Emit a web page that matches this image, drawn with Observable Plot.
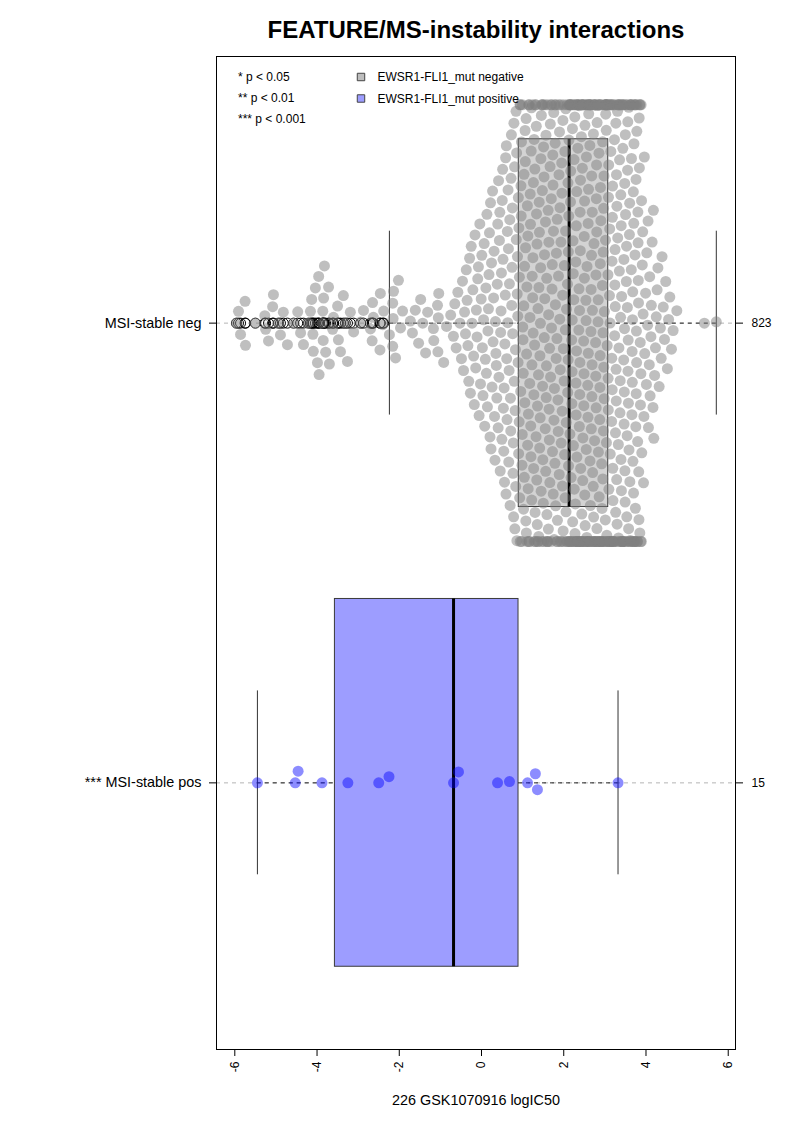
<!DOCTYPE html>
<html>
<head>
<meta charset="utf-8">
<script src="https://cdn.jsdelivr.net/npm/d3@7"></script>
<script src="https://cdn.jsdelivr.net/npm/@observablehq/plot@0.6"></script>
<style>
  html, body { margin: 0; padding: 0; background: #fff; }
  #chart svg { display: block; }
</style>
</head>
<body>
<div id="chart"></div>
<script>
// ---------------- data ----------------
const title = "FEATURE/MS-instability interactions";
const xLabel = "226 GSK1070916 logIC50";
const xTicks = [-6, -4, -2, 0, 2, 4, 6];
const groupNames = ["MSI-stable neg", "MSI-stable pos"];
const groupSig = ["", "***"];
const groupPos = [2, 1];
const sigLegend = ["* p < 0.05", "** p < 0.01", "*** p < 0.001"];
const featLegend = ["EWSR1-FLI1_mut negative", "EWSR1-FLI1_mut positive"];

// MSI-stable neg: sparse lower part, read point by point
const negLow = [
  -5.96, -5.91, -5.86, -5.75, -5.74, -5.50, -5.27, -5.25, -5.18,
  -5.08, -5.06, -4.94, -4.89, -4.82, -4.72, -4.57, -4.47, -4.40,
  -4.33, -4.21, -4.16, -4.13, -4.10, -4.09, -4.04, -3.99, -3.96, -3.95, -3.87,
  -3.86, -3.85, -3.84, -3.82, -3.79, -3.72, -3.70, -3.62, -3.60, -3.50, -3.48,
  -3.43, -3.36, -3.31, -3.26, -3.19, -3.11, -2.94, -2.87, -2.70, -2.66, -2.65, -2.63,
  -2.47, -2.46, -2.40, -2.38,
  -2.24, -2.16, -2.16, -2.15, -2.14, -2.09, -2.02, -1.97, -1.92, -1.73, -1.68, -1.61,
  -1.53, -1.48, -1.43, -1.36, -1.31, -1.17, -1.16, -1.07, -1.06, -1.05, -1.04, -0.92
];
// MSI-stable neg: dense part, counts per 0.1-wide bin (bin start values)
const negBinStart = [
  -0.9, -0.8, -0.7, -0.6, -0.5, -0.4, -0.3, -0.2, -0.1, 0.0, 0.1, 0.2, 0.3, 0.4, 0.5, 0.6, 0.7, 0.8,
  0.9, 1.0, 1.1, 1.2, 1.3, 1.4, 1.5, 1.6, 1.7, 1.8, 1.9, 2.0,
  2.1, 2.2, 2.3, 2.4, 2.5, 2.6, 2.7, 2.8, 2.9, 3.0,
  3.1, 3.2, 3.3, 3.4, 3.5, 3.6, 3.7, 3.8
];
const negBinCount = [
  1, 1, 3, 2, 4, 5, 5, 6, 6, 7, 8, 8, 9, 10, 11, 12, 13, 14,
  16, 16, 16, 17, 17, 17, 17, 17, 17, 16, 17, 17,
  21, 21, 22, 22, 22, 22, 21, 22, 21, 22,
  21, 20, 20, 20, 20, 20, 20, 19
];
// MSI-stable neg: upper tail, read point by point
const negHigh = [
  3.91, 3.92, 3.93, 3.94, 3.95, 3.96, 3.97, 3.99,
  4.01, 4.02, 4.04, 4.05, 4.06, 4.08, 4.09, 4.10,
  4.12, 4.13, 4.15, 4.17, 4.18, 4.19,
  4.21, 4.23, 4.25, 4.27, 4.29,
  4.32, 4.35, 4.37, 4.39,
  4.42, 4.45, 4.48,
  4.52, 4.55, 4.58,
  4.62, 4.66, 4.75,
  5.42, 5.71
];
// MSI-stable pos (15 points)
const posValues = [
  -5.45, -4.53, -4.46, -3.88, -3.25, -2.50, -2.25, -0.68, -0.56, 0.39, 0.68, 1.12, 1.31, 1.36, 3.32
];

// ---------------- layout ----------------
const W = 793, H = 1122;
const mL = 216, mR = 58, mT = 56, mB = 73;
const xDomain = [-6.445, 6.177];
const yDomain = [0.42, 2.58];
const FONT = "'Liberation Sans', Arial, Helvetica, sans-serif";

const negValues = negLow.concat(
  negBinStart.flatMap((s, i) => d3.range(negBinCount[i]).map(k => +(s + (k + 0.5) / negBinCount[i] * 0.1).toFixed(4))),
  negHigh
);

const xs = Plot.scale({x: {domain: xDomain, range: [mL, W - mR]}});
const ys = Plot.scale({y: {domain: yDomain, range: [H - mB, mT]}});
const pxPerUnit = Math.abs(ys.apply(1) - ys.apply(2));

// beeswarm "swarm" placement (ascending priority) with gutter corral
function swarm(values, pos, d, limitUnits) {
  const pts = values.map(v => ({v, px: xs.apply(v), off: 0})).sort((a, b) => a.px - b.px);
  for (let i = 1; i < pts.length; i++) {
    const p = pts[i];
    const nb = [];
    for (let k = i - 1; k >= 0 && p.px - pts[k].px < d; k--) nb.push(pts[k]);
    if (!nb.length) continue;
    nb.reverse();
    const cands = [0];
    for (const q of nb) cands.push(q.off + Math.sqrt(d * d - (p.px - q.px) ** 2));
    for (const q of nb) cands.push(q.off - Math.sqrt(d * d - (p.px - q.px) ** 2));
    let best = 0, bestAbs = Infinity;
    for (const c of cands) {
      if (Math.abs(c) >= bestAbs) continue;
      let ok = true;
      for (const q of nb) {
        const dx = p.px - q.px, dy = c - q.off;
        if (dx * dx + dy * dy < 0.999 * d * d) { ok = false; break; }
      }
      if (ok) { best = c; bestAbs = Math.abs(c); }
    }
    p.off = best;
  }
  const lim = limitUnits * pxPerUnit;
  return pts.map(p => ({v: p.v, y: pos + Math.max(-lim, Math.min(lim, p.off)) / pxPerUnit}));
}

// R boxplot.stats (Tukey hinges)
function boxStats(arr, pos, name) {
  const x = arr.slice().sort((a, b) => a - b), n = x.length;
  const n4 = Math.floor((n + 3) / 2) / 2;
  const f = [1, n4, (n + 1) / 2, n + 1 - n4, n].map(di => 0.5 * (x[Math.floor(di) - 1] + x[Math.ceil(di) - 1]));
  const iqr = f[3] - f[1];
  const loF = f[1] - 1.5 * iqr, hiF = f[3] + 1.5 * iqr;
  const inside = x.filter(v => v >= loF && v <= hiF);
  return {
    name, pos, n,
    q1: f[1], med: f[2], q3: f[3],
    lo: d3.min(inside), hi: d3.max(inside),
    out: x.filter(v => v < loF || v > hiF)
  };
}

const groupValues = [negValues, posValues];
const stats = groupValues.map((vals, i) => boxStats(vals, groupPos[i], groupNames[i]));
const outliers = stats.flatMap(s => s.out.map(v => ({v, pos: s.pos})));
const boxFill = ["#d3d3d3", "#9d9dff"];
const dotFill = ["rgb(128,128,128)", "rgb(0,0,255)"];
const dotOpacity = [0.5, 0.45];
const legendFill = ["#bdbdbd", "#9d9dff"];

const swarms = groupValues.map((vals, i) =>
  swarm(vals, groupPos[i], 12, 0.475).map(p => ({...p, g: i})));

const labelByPos = new Map(stats.map((s, i) => [s.pos, (groupSig[i] ? groupSig[i] + " " : "") + s.name]));
const countByPos = new Map(stats.map(s => [s.pos, String(s.n)]));

const chart = Plot.plot({
  width: W, height: H,
  marginLeft: mL, marginRight: mR, marginTop: mT, marginBottom: mB,
  style: {fontFamily: FONT, fontSize: "12px", background: "white", color: "black", overflow: "visible"},
  x: {domain: xDomain},
  y: {domain: yDomain},
  marks: [
    // guide lines through group centers
    Plot.ruleY(groupPos, {stroke: "#b4b4b4", strokeDasharray: "4,4", strokeWidth: 1}),
    // boxes
    Plot.rect(stats, {x1: "q1", x2: "q3", y1: d => d.pos - 0.4, y2: d => d.pos + 0.4,
      fill: (d, i) => boxFill[i], stroke: "#3a3a3a", strokeWidth: 1}),
    // whiskers
    Plot.ruleY(stats, {y: "pos", x1: "lo", x2: "q1", stroke: "#222", strokeDasharray: "4,4"}),
    Plot.ruleY(stats, {y: "pos", x1: "q3", x2: "hi", stroke: "#222", strokeDasharray: "4,4"}),
    // staples
    Plot.ruleX(stats, {x: "lo", y1: d => d.pos - 0.2, y2: d => d.pos + 0.2, stroke: "#333", strokeWidth: 1}),
    Plot.ruleX(stats, {x: "hi", y1: d => d.pos - 0.2, y2: d => d.pos + 0.2, stroke: "#333", strokeWidth: 1}),
    // medians
    Plot.ruleX(stats, {x: "med", y1: d => d.pos - 0.4, y2: d => d.pos + 0.4, stroke: "black", strokeWidth: 3}),
    // outliers
    Plot.dot(outliers, {x: "v", y: "pos", r: 5, stroke: "black", strokeWidth: 1, fill: "none"}),
    // beeswarm points
    ...swarms.map((pts, i) => Plot.dot(pts, {x: "v", y: "y", r: 5.5, fill: dotFill[i], fillOpacity: dotOpacity[i], stroke: "none"})),
    // frame
    Plot.frame({stroke: "black", strokeWidth: 1}),
    // axes
    Plot.axisX({ticks: xTicks, tickSize: 7, tickPadding: 5, tickRotate: -90, tickFormat: d => String(d), fontSize: 12, label: null}),
    Plot.axisY({anchor: "left", ticks: groupPos, tickSize: 7, tickPadding: 8, tickFormat: d => labelByPos.get(d), fontSize: 14.4, label: null}),
    Plot.axisY({anchor: "right", ticks: groupPos, tickSize: 7, tickPadding: 9, tickFormat: d => countByPos.get(d), fontSize: 12, label: null}),
    // title and x label
    Plot.text([title], {frameAnchor: "top", dy: -26, lineAnchor: "middle", fontSize: 24, fontWeight: "bold", text: d => d}),
    Plot.text([xLabel], {frameAnchor: "bottom", dy: 51, lineAnchor: "middle", fontSize: 14.4, text: d => d}),
    // legends
    ...sigLegend.map((t, i) => Plot.text([t], {frameAnchor: "top-left", dx: 21.5, dy: 20.7 + i * 21.2, lineAnchor: "middle", textAnchor: "start", fontSize: 12, text: d => d})),
    ...featLegend.map((t, i) => Plot.dot([t], {frameAnchor: "top-left", dx: 144.5, dy: 20.5 + i * 21.5, symbol: "square", r: 4.2, fill: legendFill[i], stroke: "#444", strokeWidth: 1})),
    ...featLegend.map((t, i) => Plot.text([t], {frameAnchor: "top-left", dx: 161, dy: 20.7 + i * 21.5, lineAnchor: "middle", textAnchor: "start", fontSize: 12, text: d => d}))
  ]
});
document.getElementById("chart").appendChild(chart);
</script>
</body>
</html>
